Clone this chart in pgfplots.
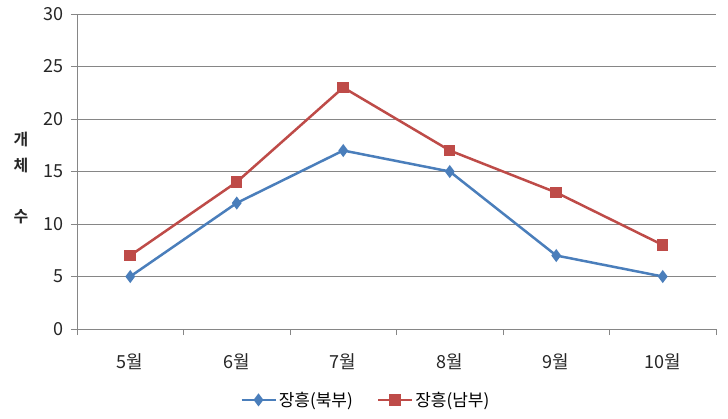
\documentclass[border=0pt]{standalone}
\usepackage{pgfplots}
\pgfplotsset{compat=1.18}
\usepackage{fontspec}
\setmainfont{Noto Sans CJK KR}[BoldFont={Noto Sans CJK KR Bold}]
\definecolor{sblue}{RGB}{74,126,187}
\definecolor{sred}{RGB}{190,75,72}
\definecolor{gridc}{RGB}{134,134,134}
\begin{document}
\begin{tikzpicture}
\path[use as bounding box] (-77pt,-89pt) rectangle (651pt,329pt);
\begin{axis}[
  at={(0,0)}, anchor=south west,
  scale only axis, width=639pt, height=315pt,
  clip=false,
  xmin=-0.5, xmax=5.5, ymin=0, ymax=30,
  ytick={0,5,...,30},
  xtick={0,...,5},
  xticklabels={5월,6월,7월,8월,9월,10월},
  minor xtick={-0.5,0.5,...,5.5},
  major x tick style={draw=none},
  tick align=outside,
  major tick length=6pt, minor tick length=6pt,
  tick style={gridc, line width=0.8pt},
  axis x line*=bottom, axis y line*=left,
  axis line style={gridc, line width=0.8pt, -},
  ymajorgrids, grid style={gridc, line width=0.8pt},
  /pgf/number format/assume math mode=true,
  every tick label/.append style={font=\fontsize{18pt}{20pt}\selectfont, text=black!85},
  yticklabel style={xshift=-4pt},
  xticklabel style={yshift=-15pt},
  legend style={at={(rel axis cs:0.452,-0.225)}, anchor=center, draw=none, fill=none,
    font=\fontsize{17pt}{19pt}\selectfont, legend columns=2,
    /tikz/every even column/.append style={column sep=22pt}},
  legend image code/.code={
    \draw[#1, mark repeat=2, mark phase=2] plot coordinates {(0pt,0pt) (17pt,0pt) (34pt,0pt)};},
]
\addplot[sblue, line width=2.5pt, mark=diamond*, mark size=4.5pt, mark options={solid}]
  coordinates {(0,5) (1,12) (2,17) (3,15) (4,7) (5,5)};
\addlegendentry{장흥(북부)}
\addplot[sred, line width=2.5pt, mark=square*, mark size=4.5pt, mark options={solid}]
  coordinates {(0,7) (1,14) (2,23) (3,17) (4,13) (5,8)};
\addlegendentry{장흥(남부)}
\node[font=\bfseries\fontsize{16pt}{18pt}\selectfont, align=center, text=black!85]
  at (rel axis cs:0,0.48) [xshift=-56pt] {개\\[8pt]체\\[33pt]수};
\end{axis}
\end{tikzpicture}
\end{document}
